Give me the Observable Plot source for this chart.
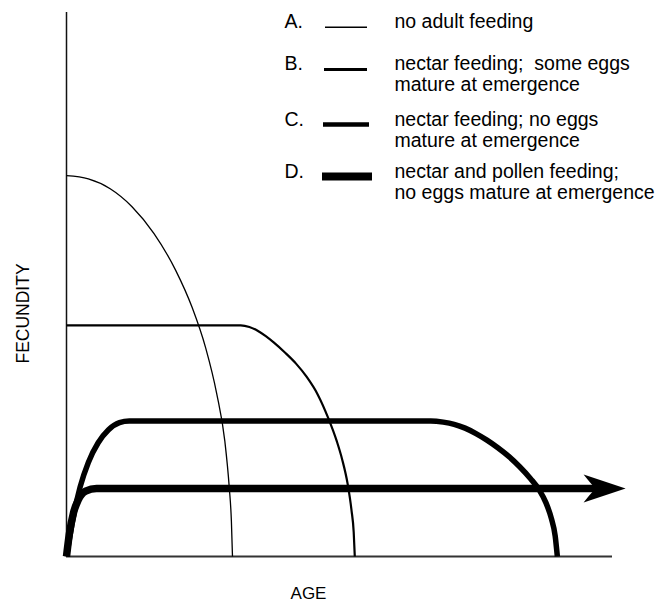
<!DOCTYPE html>
<html>
<head>
<meta charset="utf-8">
<script src="https://cdn.jsdelivr.net/npm/d3@7"></script>
<script src="https://cdn.jsdelivr.net/npm/@observablehq/plot@0.6"></script>
<style>
  html, body { margin: 0; padding: 0; background: #fff; }
  #chart { width: 660px; height: 602px; }
</style>
</head>
<body>
<div id="chart"></div>
<script>
// ---- Data (age and fecundity in arbitrary units 0–100) ----
const ageA = [0, 4, 8, 12, 16, 20, 23, 25.5, 27.5, 29, 29.8, 30.2, 30.4];
const fecA = [70, 69.4, 67.6, 64.3, 59.4, 52.6, 45.8, 38.3, 30, 21.2, 12.8, 6.5, 0];

const ageB = [0, 20, 29, 31.9, 33.5, 35, 36.5, 38, 40, 42, 44, 46, 48, 49.5, 50.5, 51.5, 52.2, 52.6, 52.8];
const fecB = [42.5, 42.5, 42.5, 42.5, 42.2, 41.5, 40.5, 39.3, 37.5, 35.5, 33, 29.8, 25.3, 21.2, 17.8, 13.3, 8.5, 4.5, 0];

const ageC = [0, 0.5, 1.3, 2.5, 4, 5.8, 7.7, 9.7, 11.5, 30, 60, 66.7, 69, 71, 73, 75, 77, 79, 81, 83, 85, 86.6, 87.8, 88.8, 89.5, 89.9];
const fecC = [0, 3, 7.5, 12.8, 17.3, 20.9, 23.3, 24.6, 24.9, 24.9, 24.9, 24.9, 24.7, 24.3, 23.6, 22.6, 21.4, 20.0, 18.4, 16.5, 14.3, 12.2, 9.9, 7.0, 3.8, 0];

const ageD = [0, 0.5, 1.3, 2.1, 3.5, 5.5, 20, 97, 102.4];
const fecD = [0, 4, 8.1, 10.3, 12, 12.5, 12.5, 12.5, 12.5];

const legendKeys = ["A.", "B.", "C.", "D."];
const legendLabels = [
  "no adult feeding",
  "nectar feeding;\u00a0 some eggs\nmature at emergence",
  "nectar feeding; no eggs\nmature at emergence",
  "nectar and pollen feeding;\nno eggs mature at emergence"
];
const xLabel = "AGE";
const yLabel = "FECUNDITY";

// ---- Layout & styles ----
const W = 660, H = 602;
const M = {top: 12, right: 48, bottom: 46, left: 66};
const xDom = [0, 100], yDom = [0, 100];
const fx = px => xDom[0] + (px - M.left) * (xDom[1] - xDom[0]) / (W - M.left - M.right);
const fy = py => yDom[0] + (H - M.bottom - py) * (yDom[1] - yDom[0]) / (H - M.top - M.bottom);

const curveWidths = [1.3, 2.2, 5.5, 7.5];
const sampleWidths = [1.5, 3, 4.5, 8];
const legendBaselines = [27.5, 69, 125, 177];
const sampleY = [26.7, 69, 124, 176];
const sampleX = [[325, 367], [324, 367], [323, 369], [322, 372]];
const lineSpacing = 21.7;
const legendFont = 19.5;
const FONT = "'Liberation Sans', Arial, Helvetica, sans-serif";

const table = (xs, ys) => xs.map((a, i) => ({age: a, fec: ys[i]}));
const dataA = table(ageA, fecA);
const dataB = table(ageB, fecB);
const dataC = table(ageC, fecC);
const dataD = table(ageD, fecD);

// filled swept-back arrowhead, tip at the symbol origin, pointing right
const arrowHead = {
  draw(ctx) {
    ctx.moveTo(0, 0);
    ctx.lineTo(-42, -14);
    ctx.quadraticCurveTo(-35, -5, -30, 0);
    ctx.quadraticCurveTo(-35, 5, -42, 14);
    ctx.closePath();
  }
};

const curveMarks = [dataA, dataB, dataC, dataD.slice(0, -1)].map((d, i) =>
  Plot.line(d, {x: "age", y: "fec", curve: "monotone-x", stroke: "black",
    strokeWidth: curveWidths[i], strokeLinecap: "butt", strokeLinejoin: "round"})
);

const legendMarks = [];
legendKeys.forEach((k, i) => {
  const nLines = legendLabels[i].split("\n").length;
  legendMarks.push(
    Plot.text([k], {x: fx(284), y: fy(legendBaselines[i]), text: d => d,
      textAnchor: "start", lineAnchor: "bottom", fontSize: legendFont, fill: "black"}),
    Plot.ruleY([fy(sampleY[i])], {x1: fx(sampleX[i][0]), x2: fx(sampleX[i][1]),
      stroke: "black", strokeWidth: sampleWidths[i]}),
    Plot.text([legendLabels[i]], {x: fx(394), y: fy(legendBaselines[i] + (nLines - 1) * lineSpacing),
      text: d => d, textAnchor: "start", lineAnchor: "bottom", lineHeight: lineSpacing / legendFont,
      fontSize: legendFont, fill: "black"})
  );
});

const chart = Plot.plot({
  width: W,
  height: H,
  marginTop: M.top, marginRight: M.right, marginBottom: M.bottom, marginLeft: M.left,
  x: {domain: xDom, axis: null},
  y: {domain: yDom, axis: null},
  style: {fontFamily: FONT, background: "white", color: "black", overflow: "visible"},
  marks: [
    Plot.ruleX([0], {stroke: "#111", strokeWidth: 1.5}),
    Plot.ruleY([0], {stroke: "#333", strokeWidth: 2}),
    ...curveMarks,
    Plot.dot(dataD.slice(-1), {x: "age", y: "fec", symbol: arrowHead, fill: "black", stroke: "none", r: 10}),
    ...legendMarks,
    Plot.text([yLabel], {x: fx(23), y: fy(313), text: d => d, rotate: -90,
      textAnchor: "middle", lineAnchor: "middle", fontSize: 17.5, fill: "black"}),
    Plot.text([xLabel], {x: fx(308), y: fy(598), text: d => d,
      textAnchor: "middle", lineAnchor: "bottom", fontSize: 17, fill: "black"})
  ]
});
document.getElementById("chart").appendChild(chart);
</script>
</body>
</html>
